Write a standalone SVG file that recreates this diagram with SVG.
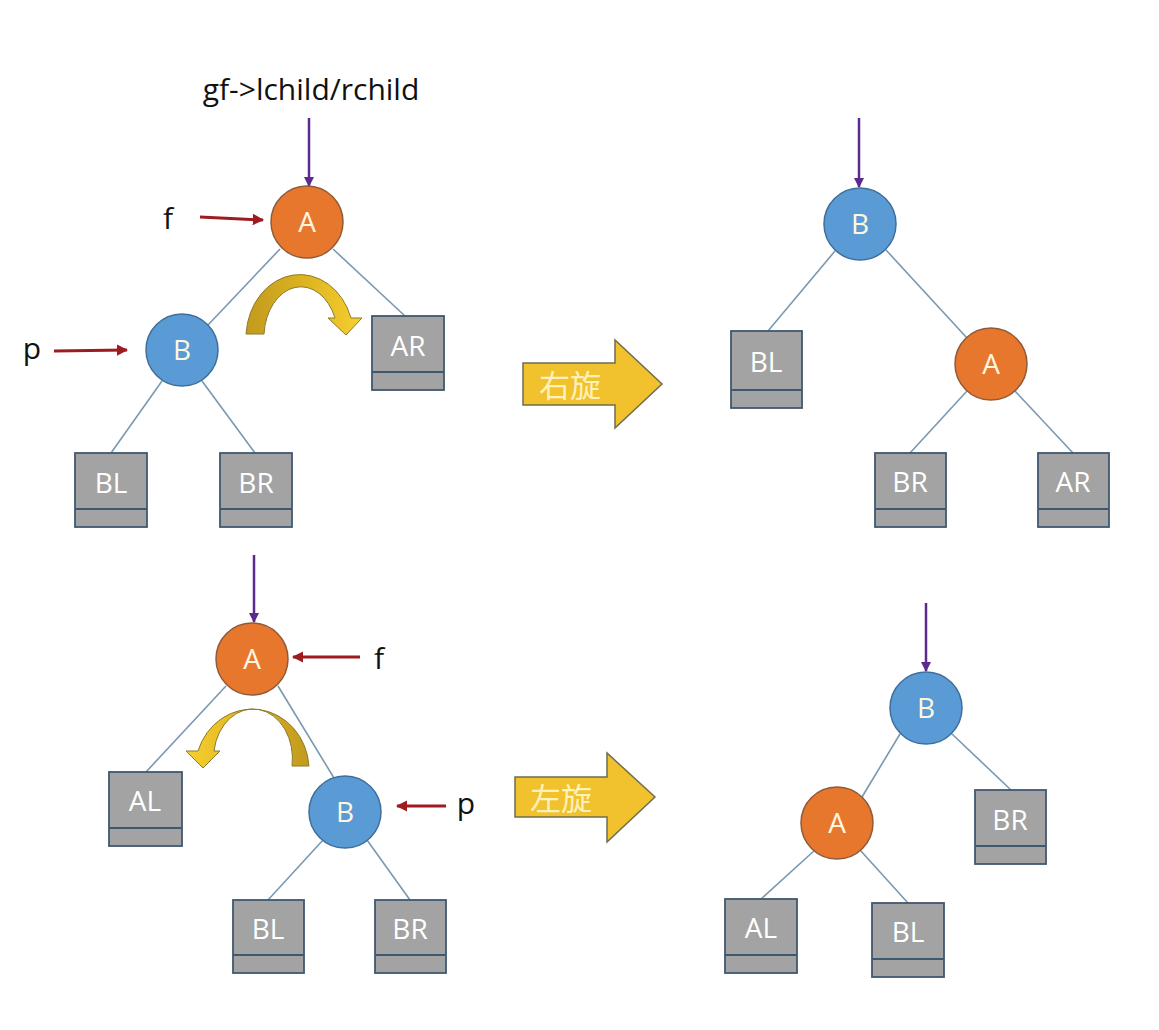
<svg xmlns="http://www.w3.org/2000/svg" width="1159" height="1030" viewBox="0 0 1159 1030">
<defs>
<style>
.lbl{font-family:"Open Sans","Liberation Sans",sans-serif;fill:#111;}
.nA{fill:#E8772E;stroke:#8E5A3A;stroke-width:1.5;}
.nB{fill:#5B9BD5;stroke:#3E6E9A;stroke-width:1.5;}
.nt{font-family:"Open Sans","Liberation Sans",sans-serif;font-size:28px;fill:#FFF6E0;text-anchor:middle;}
.box{fill:#A3A3A3;stroke:#3F5870;stroke-width:1.8;}
.bt{font-family:"Open Sans","Liberation Sans",sans-serif;font-size:28px;fill:#FFFFFF;text-anchor:middle;}
.edge{stroke:#7A98B0;stroke-width:1.6;fill:none;}
.pur{stroke:#5A2A8C;stroke-width:2.5;fill:none;}
.red{stroke:#9E1B20;stroke-width:3;fill:none;}
.blk{fill:#F2C12E;stroke:#6E6E50;stroke-width:1.5;}
.bk{font-family:"Noto Sans CJK SC",sans-serif;font-size:31px;fill:#FFF2B8;text-anchor:middle;}
</style>
<marker id="mp" viewBox="0 0 10 10" refX="9" refY="5" markerWidth="4" markerHeight="4" orient="auto"><path d="M0,0 L10,5 L0,10 Z" fill="#5A2A8C"/></marker>
<marker id="mr" viewBox="0 0 10 10" refX="9" refY="5" markerWidth="3.8" markerHeight="3.8" orient="auto"><path d="M0,0 L10,5 L0,10 Z" fill="#9E1B20"/></marker>
<linearGradient id="g1" x1="0" y1="0" x2="1" y2="0"><stop offset="0" stop-color="#C29A1E"/><stop offset="0.5" stop-color="#DDB320"/><stop offset="1" stop-color="#F7D030"/></linearGradient>
<linearGradient id="g2" x1="1" y1="0" x2="0" y2="0"><stop offset="0" stop-color="#C29A1E"/><stop offset="0.5" stop-color="#DDB320"/><stop offset="1" stop-color="#F7D030"/></linearGradient>
</defs>
<rect width="1159" height="1030" fill="#FFFFFF"/>

<g id="connectors">
<line class="edge" x1="280" y1="249" x2="208" y2="325"/>
<line class="edge" x1="333" y1="249" x2="405" y2="316"/>
<line class="edge" x1="162" y1="381" x2="111" y2="453"/>
<line class="edge" x1="202" y1="381" x2="255" y2="453"/>
<line class="edge" x1="835" y1="251" x2="768" y2="331"/>
<line class="edge" x1="886" y1="250" x2="967" y2="338"/>
<line class="edge" x1="967" y1="391" x2="910" y2="453"/>
<line class="edge" x1="1015" y1="391" x2="1073" y2="453"/>
<line class="edge" x1="226" y1="686" x2="146" y2="772"/>
<line class="edge" x1="278" y1="686" x2="334" y2="778"/>
<line class="edge" x1="323" y1="840" x2="268" y2="900"/>
<line class="edge" x1="367" y1="840" x2="410" y2="900"/>
<line class="edge" x1="900" y1="734" x2="862" y2="797"/>
<line class="edge" x1="952" y1="734" x2="1011" y2="790"/>
<line class="edge" x1="815" y1="850" x2="761" y2="899"/>
<line class="edge" x1="860" y1="850" x2="908" y2="903"/>
<line class="pur" x1="309" y1="118" x2="309" y2="186" marker-end="url(#mp)"/>
<line class="pur" x1="859" y1="118" x2="859" y2="187" marker-end="url(#mp)"/>
<line class="pur" x1="254" y1="555" x2="254" y2="622" marker-end="url(#mp)"/>
<line class="pur" x1="926" y1="603" x2="926" y2="671" marker-end="url(#mp)"/>
<line class="red" x1="200" y1="217" x2="263" y2="220" marker-end="url(#mr)"/>
<line class="red" x1="54" y1="351" x2="127" y2="350" marker-end="url(#mr)"/>
<line class="red" x1="360" y1="657" x2="293" y2="657" marker-end="url(#mr)"/>
<line class="red" x1="446" y1="806" x2="397" y2="806" marker-end="url(#mr)"/>
</g>

<g id="labels">
<text class="lbl" x="311" y="100" font-size="30" text-anchor="middle">gf-&gt;lchild/rchild</text>
<text class="lbl" x="168" y="229" font-size="30" text-anchor="middle">f</text>
<text class="lbl" x="32" y="359" font-size="30" text-anchor="middle">p</text>
<text class="lbl" x="379" y="669" font-size="30" text-anchor="middle">f</text>
<text class="lbl" x="466" y="814" font-size="30" text-anchor="middle">p</text>
</g>

<g id="rot1">
<path d="M246,334 A54,64 0 0 1 351,318 L362,318 L346,335 L328,318 L335,318 A37,51 0 0 0 264,334 Z" fill="url(#g1)" stroke="#8C7A2A" stroke-width="1"/>
</g>
<g id="rot2">
<path d="M309,766 A57,61 0 0 0 198,751 L186,751 L203,768 L220,751 L214,751 A39,49 0 0 1 292,766 Z" fill="url(#g2)" stroke="#8C7A2A" stroke-width="1"/>
</g>

<g id="right-rotate">
<path class="blk" d="M523,363 L615,363 L615,340 L662,384 L615,428 L615,405 L523,405 Z"/>
<text class="bk" x="570" y="397">右旋</text>
</g>
<g id="left-rotate">
<path class="blk" d="M515,777 L607,777 L607,753 L655,797 L607,842 L607,817 L515,817 Z"/>
<text class="bk" x="561" y="810">左旋</text>
</g>

<g id="tl-A"><circle class="nA" cx="307" cy="222" r="36"/><text class="nt" x="307" y="232">A</text></g>
<g id="tl-B"><circle class="nB" cx="182" cy="350" r="36"/><text class="nt" x="182" y="360">B</text></g>
<g id="tl-AR"><rect class="box" x="372" y="316" width="72" height="74"/><line class="box" x1="372" y1="372" x2="444" y2="372"/><text class="bt" x="408" y="356">AR</text></g>
<g id="tl-BL"><rect class="box" x="75" y="453" width="72" height="74"/><line class="box" x1="75" y1="509" x2="147" y2="509"/><text class="bt" x="111" y="493">BL</text></g>
<g id="tl-BR"><rect class="box" x="220" y="453" width="72" height="74"/><line class="box" x1="220" y1="509" x2="292" y2="509"/><text class="bt" x="256" y="493">BR</text></g>

<g id="tr-B"><circle class="nB" cx="860" cy="224" r="36"/><text class="nt" x="860" y="234">B</text></g>
<g id="tr-A"><circle class="nA" cx="991" cy="364" r="36"/><text class="nt" x="991" y="374">A</text></g>
<g id="tr-BL"><rect class="box" x="731" y="331" width="71" height="77"/><line class="box" x1="731" y1="390" x2="802" y2="390"/><text class="bt" x="766" y="372">BL</text></g>
<g id="tr-BR"><rect class="box" x="875" y="453" width="71" height="74"/><line class="box" x1="875" y1="509" x2="946" y2="509"/><text class="bt" x="910" y="492">BR</text></g>
<g id="tr-AR"><rect class="box" x="1038" y="453" width="71" height="74"/><line class="box" x1="1038" y1="509" x2="1109" y2="509"/><text class="bt" x="1073" y="492">AR</text></g>

<g id="bl-A"><circle class="nA" cx="252" cy="659" r="36"/><text class="nt" x="252" y="669">A</text></g>
<g id="bl-B"><circle class="nB" cx="345" cy="812" r="36"/><text class="nt" x="345" y="822">B</text></g>
<g id="bl-AL"><rect class="box" x="109" y="772" width="73" height="74"/><line class="box" x1="109" y1="828" x2="182" y2="828"/><text class="bt" x="145" y="811">AL</text></g>
<g id="bl-BL"><rect class="box" x="233" y="900" width="71" height="73"/><line class="box" x1="233" y1="955" x2="304" y2="955"/><text class="bt" x="268" y="939">BL</text></g>
<g id="bl-BR"><rect class="box" x="375" y="900" width="71" height="73"/><line class="box" x1="375" y1="955" x2="446" y2="955"/><text class="bt" x="410" y="939">BR</text></g>

<g id="br-B"><circle class="nB" cx="926" cy="708" r="36"/><text class="nt" x="926" y="718">B</text></g>
<g id="br-A"><circle class="nA" cx="837" cy="823" r="36"/><text class="nt" x="837" y="833">A</text></g>
<g id="br-BR"><rect class="box" x="975" y="790" width="71" height="74"/><line class="box" x1="975" y1="846" x2="1046" y2="846"/><text class="bt" x="1010" y="830">BR</text></g>
<g id="br-AL"><rect class="box" x="725" y="899" width="72" height="74"/><line class="box" x1="725" y1="955" x2="797" y2="955"/><text class="bt" x="761" y="938">AL</text></g>
<g id="br-BL"><rect class="box" x="872" y="903" width="72" height="74"/><line class="box" x1="872" y1="959" x2="944" y2="959"/><text class="bt" x="908" y="942">BL</text></g>
</svg>
